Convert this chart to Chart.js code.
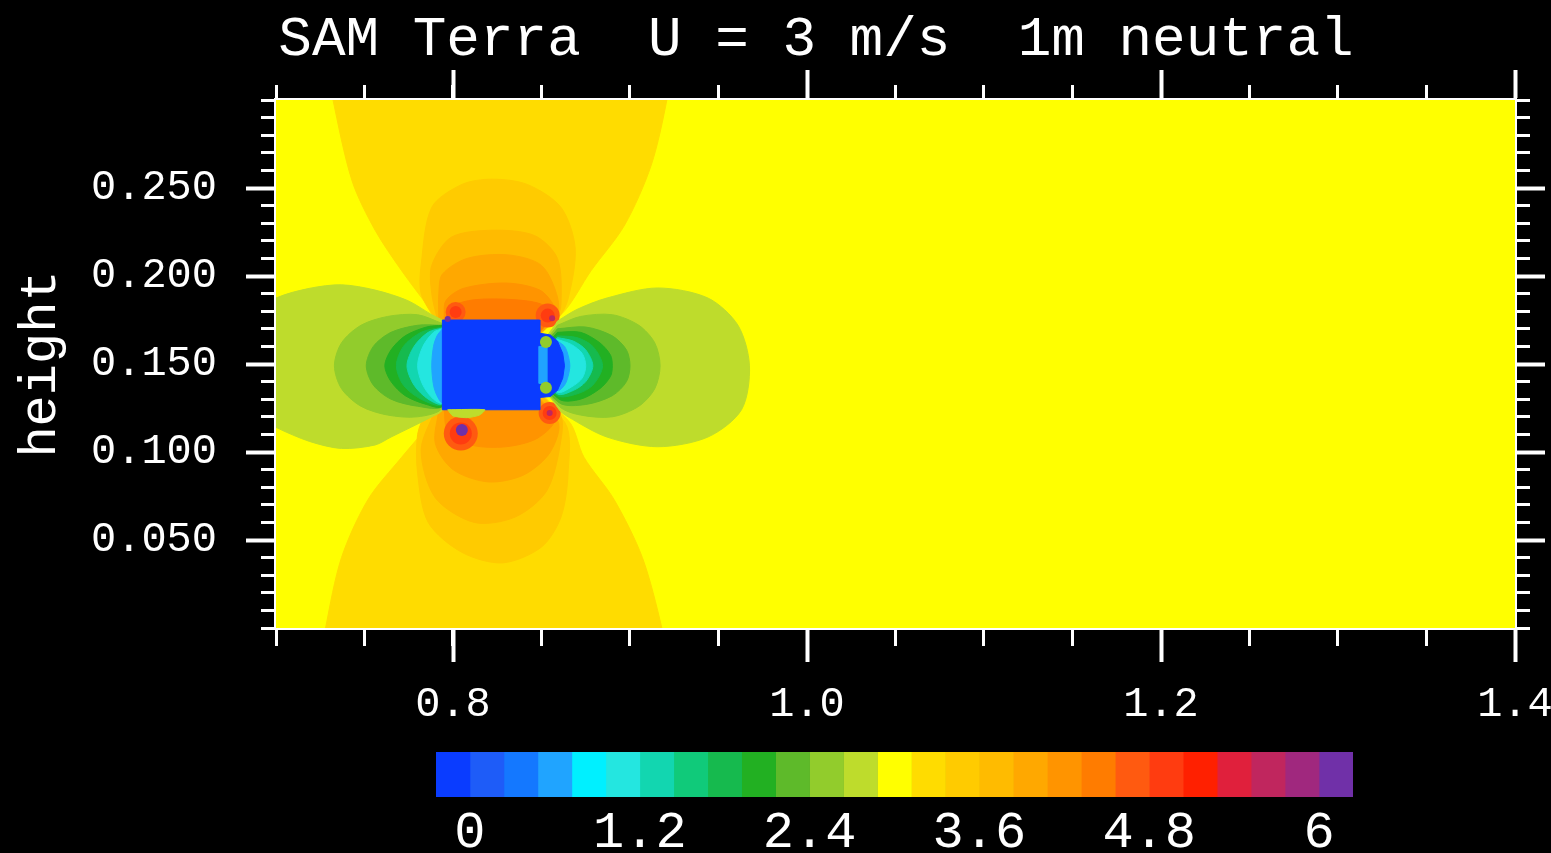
<!DOCTYPE html>
<html>
<head>
<meta charset="utf-8">
<title>SAM Terra U = 3 m/s 1m neutral</title>
<script src="https://cdn.jsdelivr.net/npm/chart.js@4.4.1/dist/chart.umd.min.js"></script>
<style>
  html,body{margin:0;padding:0;background:#000;width:1551px;height:853px;overflow:hidden;position:relative}
  #field{position:absolute;left:0;top:0}
  #bar{position:absolute;left:0;top:740px}
</style>
</head>
<body>
<canvas id="field" width="1632" height="740"></canvas>
<canvas id="bar" width="1551" height="113"></canvas>
<script>
const FONT = 'Liberation Mono';

/* colour scale: bin edges and one colour per bin */
const cbLevels = [-0.24, 0, 0.24, 0.48, 0.72, 0.96, 1.2, 1.44, 1.68, 1.92, 2.16, 2.4, 2.64, 2.88,
  3.12, 3.36, 3.6, 3.84, 4.08, 4.32, 4.56, 4.8, 5.04, 5.28, 5.52, 5.76, 6.0, 6.24];
const cbColors = ['#0a3cff','#1e5cf8','#1478ff','#20a4ff','#00f0ff','#24e6e0','#12d6b0','#10ca7a',
  '#16ba4e','#22b022','#5eba2a','#92cc2c','#bedc2c','#ffff00','#ffdc00','#ffcb00','#ffbb00',
  '#ffa800','#ff9400','#ff7c00','#ff5a10','#ff3c10','#ff2000','#e0203c','#c0265e','#a0287e','#7030a8'];
const cbTicks = [0, 1.2, 2.4, 3.6, 4.8, 6];

/* axes */
const xTicks = [0.8, 1.0, 1.2, 1.4];
const yTicks = [0.05, 0.1, 0.15, 0.2, 0.25];

/* contour regions (x, height) */
const freeStream = [[0.7,0],[1.4,0],[1.4,0.3],[0.7,0.3],[0.7,0]];

const upperFan = [[0.788,0.180],[0.771,0.203],[0.756,0.226],[0.743,0.254],[0.732,0.301],[0.730,0.315],
  [0.922,0.315],[0.921,0.301],[0.912,0.263],[0.897,0.229],[0.878,0.203],[0.861,0.178],[0.822,0.150],[0.788,0.180]];
const upperBlob1 = [[0.790,0.175],[0.782,0.190],[0.782,0.206],[0.788,0.239],[0.805,0.252],[0.822,0.255],
  [0.842,0.252],[0.861,0.239],[0.869,0.216],[0.865,0.187],[0.859,0.176],[0.822,0.150],[0.790,0.175]];
const upperBlob2 = [[0.791,0.176],[0.788,0.190],[0.788,0.206],[0.799,0.222],[0.822,0.226],[0.846,0.223],
  [0.859,0.210],[0.861,0.184],[0.858,0.176],[0.822,0.150],[0.791,0.176]];
const upperBlob3 = [[0.792,0.176],[0.792,0.190],[0.794,0.201],[0.808,0.210],[0.831,0.212],[0.850,0.206],
  [0.859,0.188],[0.858,0.176],[0.822,0.150],[0.792,0.176]];
const upperBlob4 = [[0.795,0.176],[0.796,0.186],[0.806,0.193],[0.830,0.196],[0.849,0.192],[0.857,0.183],
  [0.857,0.176],[0.822,0.150],[0.795,0.176]];
const upperBlob5 = [[0.796,0.176],[0.799,0.1825],[0.812,0.1865],[0.835,0.1865],[0.851,0.1835],[0.856,0.176],
  [0.822,0.150],[0.796,0.176]];

const lowerFan = [[0.788,0.117],[0.771,0.097],[0.752,0.073],[0.737,0.040],[0.728,0.0],[0.726,-0.015],
  [0.920,-0.015],[0.918,0.0],[0.907,0.040],[0.891,0.073],[0.874,0.097],[0.865,0.118],[0.822,0.150],[0.788,0.117]];
const lowerBlob1 = [[0.785,0.124],[0.780,0.110],[0.780,0.088],[0.786,0.060],[0.805,0.043],[0.828,0.037],
  [0.850,0.046],[0.861,0.063],[0.865,0.088],[0.863,0.117],[0.822,0.150],[0.785,0.124]];
const lowerBlob2 = [[0.790,0.124],[0.782,0.101],[0.790,0.074],[0.812,0.060],[0.835,0.063],[0.853,0.078],
  [0.861,0.107],[0.860,0.122],[0.822,0.150],[0.790,0.124]];
const lowerBlob3 = [[0.792,0.124],[0.790,0.105],[0.800,0.090],[0.820,0.083],[0.840,0.087],[0.855,0.100],
  [0.859,0.118],[0.822,0.150],[0.792,0.124]];
const lowerBlob4 = [[0.795,0.124],[0.797,0.112],[0.810,0.104],[0.830,0.103],[0.848,0.108],[0.857,0.119],
  [0.822,0.150],[0.795,0.124]];

const leftLobe1 = [[0.794,0.175],[0.788,0.178],[0.7745,0.186],[0.756,0.192],[0.737,0.195],[0.719,0.193],
  [0.700,0.1875],[0.690,0.180],[0.685,0.150],[0.690,0.120],[0.700,0.114],[0.719,0.106],[0.737,0.102],
  [0.756,0.104],[0.765,0.1085],[0.788,0.120],[0.794,0.124],[0.800,0.150],[0.794,0.175]];
const rightLobe1 = [[0.859,0.1744],[0.870,0.181],[0.887,0.1875],[0.9156,0.1932],[0.944,0.1875],[0.961,0.172],
  [0.9675,0.149],[0.963,0.124],[0.944,0.1085],[0.9156,0.103],[0.887,0.1085],[0.865,0.120],[0.860,0.124],
  [0.845,0.150],[0.859,0.1744]];
const leftLobe2 = [[0.794,0.173],[0.780,0.178],[0.763,0.177],[0.748,0.172],[0.737,0.162],[0.733,0.149],
  [0.737,0.136],[0.748,0.126],[0.763,0.121],[0.780,0.120],[0.794,0.125],[0.800,0.150],[0.794,0.173]];
const rightLobe2 = [[0.859,0.172],[0.872,0.177],[0.890,0.178],[0.905,0.172],[0.914,0.162],[0.917,0.149],
  [0.914,0.136],[0.905,0.126],[0.890,0.120],[0.872,0.121],[0.860,0.126],[0.845,0.150],[0.859,0.172]];
const leftLobe3 = [[0.794,0.172],[0.780,0.172],[0.765,0.168],[0.755,0.160],[0.751,0.149],[0.755,0.138],
  [0.765,0.130],[0.780,0.126],[0.794,0.126],[0.800,0.150],[0.794,0.172]];
const rightLobe3 = [[0.859,0.170],[0.875,0.171],[0.890,0.166],[0.898,0.158],[0.900,0.149],[0.898,0.140],
  [0.890,0.132],[0.875,0.127],[0.860,0.128],[0.845,0.150],[0.859,0.170]];
const leftLobe4 = [[0.794,0.172],[0.785,0.171],[0.773,0.166],[0.765,0.158],[0.7615,0.149],[0.765,0.140],
  [0.773,0.132],[0.785,0.127],[0.794,0.126],[0.800,0.150],[0.794,0.172]];
const rightLobe4 = [[0.859,0.168],[0.872,0.168],[0.883,0.162],[0.889,0.155],[0.890,0.149],[0.889,0.143],
  [0.883,0.136],[0.872,0.130],[0.860,0.130],[0.845,0.150],[0.859,0.168]];
const leftLobe5 = [[0.794,0.171],[0.782,0.168],[0.772,0.160],[0.768,0.149],[0.772,0.138],[0.782,0.130],
  [0.794,0.127],[0.800,0.150],[0.794,0.171]];
const rightLobe5 = [[0.859,0.166],[0.870,0.165],[0.879,0.160],[0.8845,0.149],[0.879,0.138],[0.870,0.133],
  [0.859,0.132],[0.845,0.150],[0.859,0.166]];
const leftLobe6 = [[0.794,0.1705],[0.786,0.168],[0.778,0.160],[0.774,0.149],[0.778,0.138],[0.786,0.130],
  [0.794,0.1275],[0.800,0.150],[0.794,0.1705]];
const rightLobe6 = [[0.859,0.165],[0.868,0.163],[0.875,0.158],[0.879,0.149],[0.875,0.140],[0.868,0.135],
  [0.859,0.133],[0.845,0.150],[0.859,0.165]];
const leftLobe7 = [[0.794,0.170],[0.789,0.168],[0.783,0.160],[0.780,0.149],[0.783,0.138],[0.789,0.130],
  [0.794,0.128],[0.800,0.150],[0.794,0.170]];
const rightLobe7 = [[0.859,0.164],[0.867,0.161],[0.873,0.156],[0.875,0.149],[0.873,0.142],[0.867,0.137],
  [0.859,0.134],[0.845,0.150],[0.859,0.164]];
const leftLobe8 = [[0.794,0.170],[0.791,0.166],[0.789,0.160],[0.788,0.149],[0.789,0.138],[0.791,0.132],
  [0.794,0.128],[0.800,0.150],[0.794,0.170]];
const rightLobe8 = [[0.859,0.163],[0.863,0.160],[0.865,0.155],[0.866,0.149],[0.865,0.143],[0.863,0.138],
  [0.859,0.135],[0.845,0.150],[0.859,0.163]];

const obstacle = [[0.794,0.124],[0.794,0.175],[0.849,0.175],[0.849,0.1675],[0.855,0.1665],[0.859,0.163],
  [0.862,0.156],[0.863,0.149],[0.862,0.142],[0.859,0.135],[0.855,0.1315],[0.849,0.131],[0.849,0.124],[0.794,0.124]];
const wakeStrip = [[0.8485,0.160],[0.853,0.160],[0.853,0.139],[0.8485,0.139],[0.8485,0.160]];
const underStrip = [[0.797,0.124],[0.800,0.1205],[0.808,0.1195],[0.815,0.121],[0.818,0.124],[0.797,0.124]];

/* corner jets */
const spotCentres = [[0.8015,0.1795],[0.8535,0.1775],[0.8044,0.1105],[0.8546,0.1222]];
const spotCores = [[0.797,0.1755],[0.856,0.176],[0.805,0.1125],[0.8546,0.1222]];
const wakeDots = [[0.8525,0.1625],[0.8525,0.1365]];

/* ---------- field chart ---------- */
const xy = pts => pts.map(p => ({x:p[0], y:p[1]}));
const datasets = [];
function region(pts, bin, tension){
  datasets.push({data:xy(pts), backgroundColor:cbColors[bin], borderColor:cbColors[bin], borderWidth:1,
    pointRadius:0, fill:'shape', tension:tension});
}
function spots(pts, colors, radii){
  datasets.push({data:xy(pts), showLine:false, pointRadius:radii, pointBackgroundColor:colors,
    pointBorderWidth:0, borderColor:'rgba(0,0,0,0)', fill:false});
}

region(freeStream, 13, 0);
region(upperFan, 14, 0.3);
region(lowerFan, 14, 0.3);
region(upperBlob1, 15, 0.3);
region(lowerBlob1, 15, 0.3);
region(upperBlob2, 16, 0.3);
region(lowerBlob2, 16, 0.3);
region(upperBlob3, 17, 0.3);
region(lowerBlob3, 17, 0.3);
region(upperBlob4, 18, 0.3);
region(lowerBlob4, 18, 0.3);
region(upperBlob5, 19, 0.3);
spots(spotCentres, cbColors[20], [10,12,17,11]);
spots(spotCentres, cbColors[21], [6,7,11,7]);
region(leftLobe1, 12, 0.3);  region(rightLobe1, 12, 0.3);
region(leftLobe2, 11, 0.3);  region(rightLobe2, 11, 0.3);
region(leftLobe3, 10, 0.3);  region(rightLobe3, 10, 0.3);
region(leftLobe4, 9, 0.3);   region(rightLobe4, 9, 0.3);
region(leftLobe5, 8, 0.3);   region(rightLobe5, 8, 0.3);
region(leftLobe6, 6, 0.3);   region(rightLobe6, 6, 0.3);
region(leftLobe7, 5, 0.3);   region(rightLobe7, 5, 0.3);
region(leftLobe8, 3, 0.3);   region(rightLobe8, 3, 0.3);
region(obstacle, 0, 0);
region(wakeStrip, 3, 0);
region(underStrip, 12, 0.2);
spots(spotCores, [cbColors[26],cbColors[24],cbColors[26],cbColors[24]], [3,3,6,3]);
spots(wakeDots, cbColors[11], [6,6]);
datasets.forEach((d,i) => d.order = datasets.length - i);

const white = '#fff';
const setTicks = list => s => { s.ticks = list.map(v => ({value:v})); };
function axis(extra){
  return Object.assign({
    type:'linear',
    grid:{drawOnChartArea:false, tickColor:white, tickWidth:4, tickLength:30},
    border:{display:false},
    ticks:{display:false, autoSkip:false}
  }, extra);
}
const xRange = {min:0.7, max:1.4}, yRange = {min:0, max:0.3};

new Chart(document.getElementById('field'), {
  type:'line',
  data:{datasets},
  options:{
    responsive:false, animation:false, events:[],
    layout:{padding:0},
    plugins:{
      legend:{display:false}, tooltip:{enabled:false},
      title:{display:true, text:'SAM Terra  U = 3 m/s  1m neutral', color:white,
        font:{family:FONT, size:56, weight:'normal', lineHeight:1.25}, padding:{top:5, bottom:0}}
    },
    scales:{
      x: axis({axis:'x', position:'bottom', weight:1, ...xRange, afterBuildTicks:setTicks(xTicks),
        grid:{drawOnChartArea:false, tickColor:white, tickWidth:4, tickLength:34},
        border:{display:true, color:white, width:4},
        ticks:{display:true, autoSkip:false, maxRotation:0, color:white, padding:18,
          font:{family:FONT, size:42}, callback:v => v.toFixed(1)},
        afterFit:s => { s.height = 112; }}),
      xMinor: axis({axis:'x', position:'bottom', weight:0, ...xRange,
        ticks:{display:false, stepSize:0.05},
        grid:{drawOnChartArea:false, tickColor:white, tickWidth:3, tickLength:18},
        afterFit:s => { s.height = 0; }}),
      xTop: axis({axis:'x', position:'top', weight:1, ...xRange, afterBuildTicks:setTicks(xTicks),
        border:{display:true, color:white, width:4},
        afterFit:s => { s.height = 25; }}),
      xTopMinor: axis({axis:'x', position:'top', weight:0, ...xRange,
        ticks:{display:false, stepSize:0.05},
        grid:{drawOnChartArea:false, tickColor:white, tickWidth:3, tickLength:15},
        afterFit:s => { s.height = 0; }}),
      y: axis({axis:'y', position:'left', weight:1, ...yRange, afterBuildTicks:setTicks(yTicks),
        border:{display:true, color:white, width:4},
        ticks:{display:true, autoSkip:false, color:white, padding:29,
          font:{family:FONT, size:42}, callback:v => v.toFixed(3)},
        title:{display:true, text:'height', color:white, font:{family:FONT, size:52}, padding:{top:10, bottom:0}},
        afterFit:s => { s.width = 276; }}),
      yMinor: axis({axis:'y', position:'left', weight:0, ...yRange,
        ticks:{display:false, stepSize:0.01},
        grid:{drawOnChartArea:false, tickColor:white, tickWidth:3, tickLength:15},
        afterFit:s => { s.width = 0; }}),
      yRight: axis({axis:'y', position:'right', weight:1, ...yRange, afterBuildTicks:setTicks(yTicks),
        border:{display:true, color:white, width:4},
        afterFit:s => { s.width = 117; }}),
      yRightMinor: axis({axis:'y', position:'right', weight:0, ...yRange,
        ticks:{display:false, stepSize:0.01},
        grid:{drawOnChartArea:false, tickColor:white, tickWidth:3, tickLength:15},
        afterFit:s => { s.width = 0; }})
    }
  }
});

/* ---------- colour bar ---------- */
new Chart(document.getElementById('bar'), {
  type:'bar',
  data:{
    labels:['speed'],
    datasets:cbColors.map((c,i) => ({data:[[cbLevels[i], cbLevels[i+1]]], backgroundColor:c, borderWidth:0,
      barPercentage:1, categoryPercentage:1, grouped:false}))
  },
  options:{
    indexAxis:'y', responsive:false, animation:false, events:[],
    layout:{padding:{left:436, right:198, top:12, bottom:0}},
    plugins:{legend:{display:false}, tooltip:{enabled:false}},
    scales:{
      x:{type:'linear', min:cbLevels[0], max:cbLevels[cbLevels.length-1], afterBuildTicks:setTicks(cbTicks),
        grid:{display:false, drawTicks:false}, border:{display:false},
        ticks:{color:white, padding:5, autoSkip:false, maxRotation:0, font:{family:FONT, size:52}, callback:v => String(v)},
        afterFit:s => { s.height = 56; }},
      y:{display:false}
    }
  }
});
</script>
</body>
</html>
